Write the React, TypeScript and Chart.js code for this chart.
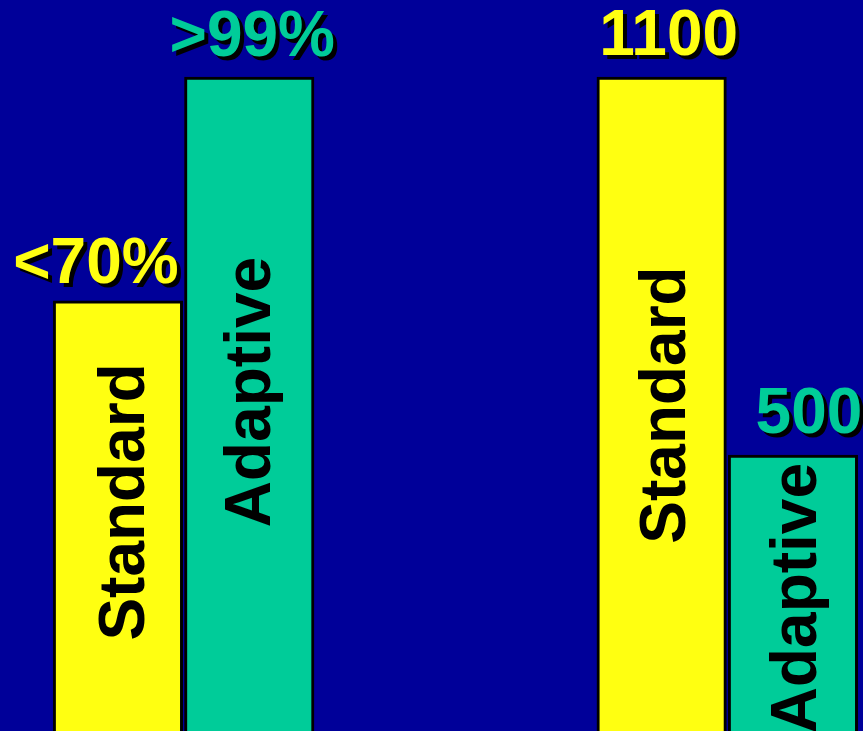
import React, { useEffect, useRef } from "react";
import { Chart, registerables } from "chart.js";

Chart.register(...registerables);

// Two comparisons, each with a Standard and an Adaptive bar.
const groups = ["Percentage", "Count"];
const standardPercent = [70, null];
const adaptivePercent = [99, null];
const standardCount = [null, 1100];
const adaptiveCount = [null, 500];

// Text written inside each bar and above it.
const barNames = ["Standard", "Adaptive", "Standard", "Adaptive"];
const valueLabels = ["<70%", ">99%", "1100", "500"];

const BG = "#000099";
const YELLOW = "#FFFF11";
const GREEN = "#00CC99";
const VIEW_W = 863;
const VIEW_H = 731;
const CANVAS_H = 770;
const FONT = "bold 64px 'Liberation Sans', Arial, sans-serif";

// Horizontal shift of the value label relative to the bar centre, and its gap above the bar.
const valueLabelShift = [-22, 3, 7, 16];
const valueLabelGap = [18, 21, 22, 22];
// Baseline of the rotated bar name relative to the bar centre, and a vertical nudge.
const nameBaselineShift = [26, 21, 23.5, 23.5];
const nameCenterNudge = [-14, -12, 1, 5];

const barTextPlugin = {
  id: "barText",
  afterDatasetsDraw(chart: any) {
    const ctx: CanvasRenderingContext2D = chart.ctx;
    chart.data.datasets.forEach((ds: any, di: number) => {
      const meta = chart.getDatasetMeta(di);
      meta.data.forEach((bar: any, i: number) => {
        if (ds.data[i] == null) return;
        const { x, y } = bar.getProps(["x", "y"], true);

        // value label with a hard drop shadow
        ctx.save();
        ctx.font = FONT;
        ctx.textAlign = "center";
        ctx.textBaseline = "alphabetic";
        const lx = x + valueLabelShift[di];
        const ly = y - valueLabelGap[di];
        ctx.fillStyle = "#000000";
        ctx.fillText(valueLabels[di], lx + 4, ly + 4);
        ctx.fillStyle = ds.labelColor;
        ctx.fillText(valueLabels[di], lx, ly);
        ctx.restore();

        // rotated series name inside the bar
        ctx.save();
        ctx.font = FONT;
        ctx.textAlign = "center";
        ctx.textBaseline = "alphabetic";
        ctx.fillStyle = "#000000";
        const cy = (y + VIEW_H) / 2 + nameCenterNudge[di];
        ctx.translate(x + nameBaselineShift[di], cy);
        ctx.rotate(-Math.PI / 2);
        ctx.fillText(barNames[di], 0, 0);
        ctx.restore();
      });
    });
  },
};

export default function App() {
  const canvasRef = useRef<HTMLCanvasElement | null>(null);

  useEffect(() => {
    if (!canvasRef.current) return;
    const barCommon = {
      borderColor: "#000000",
      borderWidth: 3,
      borderSkipped: false as const,
      barThickness: 131.3,
      maxBarThickness: 129.5,
      clip: false as const,
    };
    const chart = new Chart(canvasRef.current, {
      type: "bar",
      data: {
        labels: groups,
        datasets: [
          { ...barCommon, label: barNames[0], data: standardPercent, yAxisID: "pct", backgroundColor: YELLOW, labelColor: YELLOW } as any,
          { ...barCommon, label: barNames[1], data: adaptivePercent, yAxisID: "pct", backgroundColor: GREEN, labelColor: GREEN } as any,
          { ...barCommon, label: barNames[2], data: standardCount, yAxisID: "cnt", backgroundColor: YELLOW, labelColor: YELLOW } as any,
          { ...barCommon, label: barNames[3], data: adaptiveCount, yAxisID: "cnt", backgroundColor: GREEN, labelColor: GREEN } as any,
        ],
      },
      options: {
        responsive: false,
        animation: false,
        skipNull: true,
        layout: { padding: { left: 183.6, right: VIEW_W - 727.3, top: 77, bottom: 6 } },
        plugins: { legend: { display: false }, tooltip: { enabled: false } },
        scales: {
          x: { type: "category", offset: false, display: false, grid: { offset: false } },
          pct: { type: "linear", position: "left", min: 10, max: 99, display: false },
          cnt: { type: "linear", position: "right", min: 10, max: 1100, display: false },
        },
      } as any,
      plugins: [barTextPlugin],
    });
    return () => chart.destroy();
  }, []);

  return (
    <div
      style={{
        position: "fixed",
        left: 0,
        top: 0,
        width: VIEW_W,
        height: VIEW_H,
        overflow: "hidden",
        background: BG,
      }}
    >
      <canvas ref={canvasRef} width={VIEW_W} height={CANVAS_H} style={{ display: "block", width: VIEW_W, height: CANVAS_H }} />
    </div>
  );
}
